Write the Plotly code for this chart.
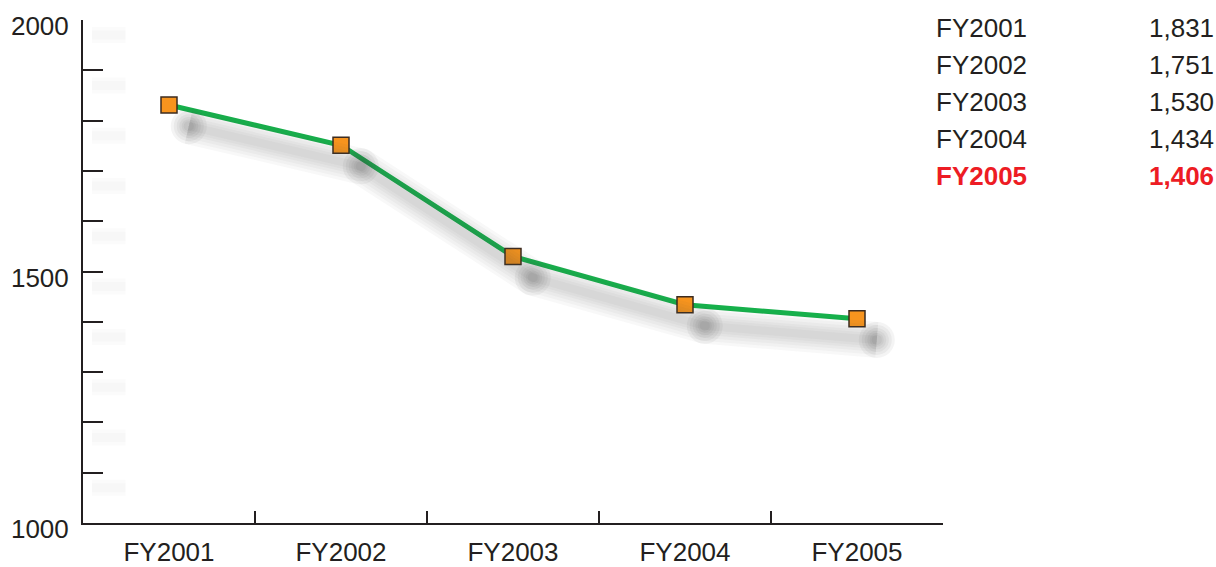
import plotly.graph_objects as go

categories = ["FY2001", "FY2002", "FY2003", "FY2004", "FY2005"]
values = [1831, 1751, 1530, 1434, 1406]
y_tick_values = [1000, 1100, 1200, 1300, 1400, 1500, 1600, 1700, 1800, 1900, 2000]
y_tick_labels = ["1000", "", "", "", "", "1500", "", "", "", "", "2000"]

TEXT = "#231f20"
RED = "#ed1c24"
GREEN = "#16b04b"
ORANGE = "#f7941e"
FONT = "Liberation Sans, Arial, sans-serif"

fig = go.Figure()

# soft drop shadow (on an invisible overlaid linear axis so it can be offset)
idx = list(range(len(categories)))
sx = [i + 0.115 for i in idx]
sy = [v - 42 for v in values]
for w in [36, 30, 24, 18, 13, 8]:
    fig.add_trace(go.Scatter(x=sx, y=sy, xaxis="x2", yaxis="y", mode="lines",
                             line=dict(color="rgba(70,70,80,0.04)", width=w),
                             hoverinfo="skip", showlegend=False))
for s in [36, 30, 24, 19, 14, 10]:
    fig.add_trace(go.Scatter(x=sx, y=sy, xaxis="x2", yaxis="y", mode="markers",
                             marker=dict(symbol="circle", size=s, color="rgba(60,60,70,0.06)", line=dict(width=0)),
                             hoverinfo="skip", showlegend=False))

# faint shadows of the axis ticks
ax_shadow_y = [v - 30 for v in y_tick_values[1:]]
for w in [16, 9]:
    fig.add_trace(go.Scatter(x=[-0.35] * len(ax_shadow_y), y=ax_shadow_y, xaxis="x2", yaxis="y", mode="markers",
                             marker=dict(symbol="line-ew", size=24, line=dict(color="rgba(80,80,90,0.025)", width=w)),
                             hoverinfo="skip", showlegend=False))

# main series
fig.add_trace(go.Scatter(x=categories, y=values, mode="lines+markers",
                         line=dict(color=GREEN, width=5),
                         marker=dict(symbol="square", size=16, color=ORANGE, line=dict(color="#3d2b1f", width=1.5)),
                         showlegend=False))

# table on the right
row_y = [0.984, 0.911, 0.837, 0.764, 0.689]
for i, (c, v) in enumerate(zip(categories, values)):
    last = i == len(categories) - 1
    col = RED if last else TEXT
    lab_c = f"<b>{c}</b>" if last else c
    lab_v = f"<b>{v:,}</b>" if last else f"{v:,}"
    fig.add_annotation(x=0.99, y=row_y[i], xref="paper", yref="paper", text=lab_c, showarrow=False,
                       xanchor="left", yanchor="middle", font=dict(family=FONT, size=26, color=col))
    fig.add_annotation(x=1.317, y=row_y[i], xref="paper", yref="paper", text=lab_v, showarrow=False,
                       xanchor="right", yanchor="middle", font=dict(family=FONT, size=26, color=col))

fig.update_layout(
    width=1216, height=567,
    margin=dict(l=83, r=273, t=20, b=44, autoexpand=False),
    paper_bgcolor="white", plot_bgcolor="white",
    font=dict(family=FONT, size=26, color=TEXT),
    xaxis=dict(type="category", categoryorder="array", categoryarray=categories,
               range=[-0.5, 4.5], tickson="boundaries", ticks="inside", ticklen=12, tickwidth=2,
               tickcolor=TEXT, showline=True, linecolor=TEXT, linewidth=2, showgrid=False,
               zeroline=False, ticklabelstandoff=5, tickfont=dict(size=26, color=TEXT),
               fixedrange=True, automargin=False),
    xaxis2=dict(type="linear", range=[-0.5, 4.5], overlaying="x", visible=False, fixedrange=True),
    yaxis=dict(range=[1000, 2000], tickmode="array", tickvals=y_tick_values, ticktext=y_tick_labels,
               ticks="inside", ticklen=20, tickwidth=2, tickcolor=TEXT, showline=True, linecolor=TEXT,
               linewidth=2, showgrid=False, zeroline=False, ticklabelshift=6, ticklabelstandoff=7,
               automargin=False, tickfont=dict(size=26, color=TEXT), fixedrange=True),
)

fig.write_html("out.html", config={"displayModeBar": False},
               post_script="document.body.style.margin='0';document.body.style.overflow='hidden';")
